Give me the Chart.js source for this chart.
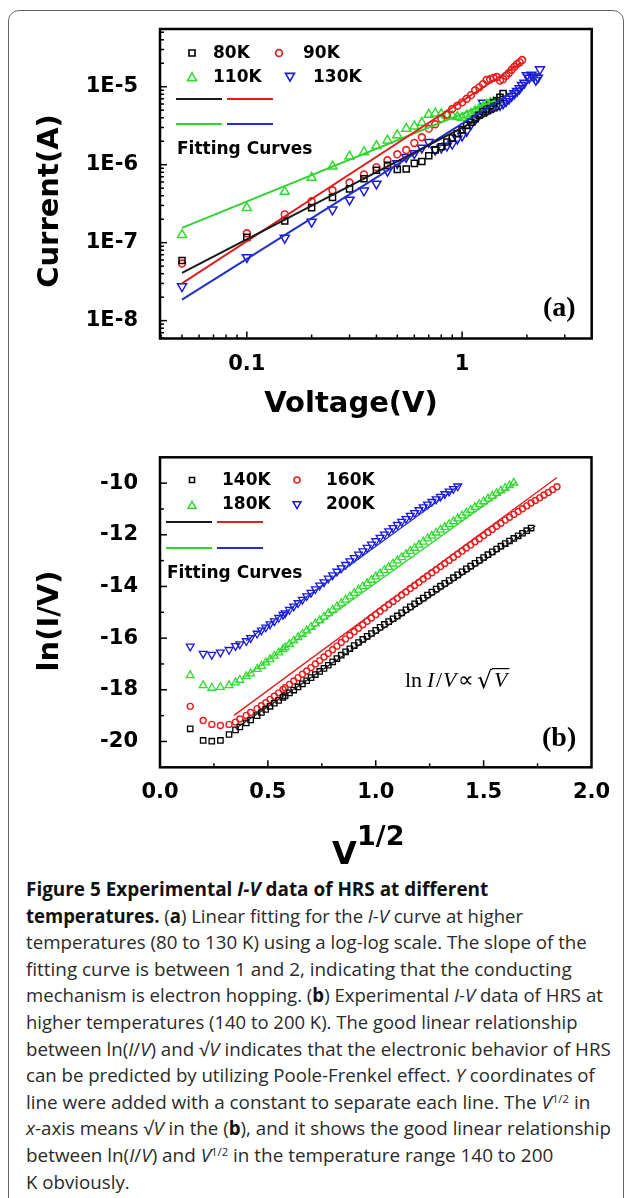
<!DOCTYPE html>
<html><head><meta charset="utf-8">
<script src="https://cdn.jsdelivr.net/npm/chart.js@4.4.1/dist/chart.umd.min.js"></script>
<style>
html,body{margin:0;padding:0;background:#fff;width:627px;height:1198px;overflow:hidden;position:relative;}
#frame{position:absolute;left:8px;top:10px;width:616px;height:1220px;border:1.5px solid #666;border-radius:11px;box-sizing:border-box;}
canvas{position:absolute;left:0;}
#ca{top:0;} #cb{top:420px;}
.cl{position:absolute;left:26px;white-space:nowrap;font-family:"Open Sans",sans-serif;font-size:19px;line-height:26px;color:#2a2a2a;transform-origin:0 50%;}
.cl b{font-weight:700;color:#111;}
.cl sup{font-size:0.6em;vertical-align:0.55em;line-height:0;}
</style></head>
<body>
<div id="frame"></div>
<canvas id="ca" width="627" height="420"></canvas>
<canvas id="cb" width="627" height="450"></canvas>
<div id="cap">
<div class="cl"><b>Figure 5 Experimental <i>I-V</i> data of HRS at different</b></div>
<div class="cl"><b>temperatures.</b> (<b>a</b>) Linear fitting for the <i>I-V</i> curve at higher</div>
<div class="cl">temperatures (80 to 130 K) using a log-log scale. The slope of the</div>
<div class="cl">fitting curve is between 1 and 2, indicating that the conducting</div>
<div class="cl">mechanism is electron hopping. (<b>b</b>) Experimental <i>I-V</i> data of HRS at</div>
<div class="cl">higher temperatures (140 to 200 K). The good linear relationship</div>
<div class="cl">between ln(<i>I</i>/<i>V</i>) and √<i>V</i> indicates that the electronic behavior of HRS</div>
<div class="cl">can be predicted by utilizing Poole-Frenkel effect. <i>Y</i> coordinates of</div>
<div class="cl">line were added with a constant to separate each line. The <i>V</i><sup>1/2</sup> in</div>
<div class="cl"><i>x</i>-axis means √<i>V</i> in the (<b>b</b>), and it shows the good linear relationship</div>
<div class="cl">between ln(<i>I</i>/<i>V</i>) and <i>V</i><sup>1/2</sup> in the temperature range 140 to 200</div>
<div class="cl">K obviously.</div>
</div>
<script>
// ---------------- DATA: panel (a) ----------------
const xA = [0.05,0.10,0.15,0.20,0.25,0.30,0.35,0.40,0.45,0.50,0.55,0.60,0.65,0.70,0.75,0.80,0.85,0.90,0.95,1.00,
            1.05,1.10,1.15,1.20,1.25,1.30,1.35,1.40,1.45,1.50,1.55,1.60,1.65,1.70,1.75,1.80,1.85,1.90,1.95,2.00,
            2.05,2.10,2.15,2.20,2.25,2.30];
const i80  = [5.9e-8,1.17e-7,1.9e-7,2.8e-7,3.8e-7,4.9e-7,6.6e-7,8.5e-7,9.8e-7,8.7e-7,8.8e-7,1.04e-6,1.1e-6,1.3e-6,1.55e-6,
              1.7e-6,1.95e-6,2.2e-6,2.5e-6,2.8e-6,3.2e-6,3.5e-6,3.9e-6,4.3e-6,4.8e-6,5.2e-6,5.7e-6,6.2e-6,6.6e-6,7.3e-6,8.2e-6];
const i90  = [5.4e-8,1.32e-7,2.3e-7,3.4e-7,4.7e-7,5.9e-7,7.5e-7,9.3e-7,1.14e-6,1.36e-6,1.54e-6,1.9e-6,2.25e-6,2.9e-6,3.3e-6,
              3.9e-6,4.4e-6,5.2e-6,5.7e-6,6.3e-6,7.0e-6,7.8e-6,9.0e-6,9.8e-6,1.08e-5,1.22e-5,1.25e-5,1.3e-5,1.33e-5,1.2e-5,
              1.25e-5,1.38e-5,1.5e-5,1.65e-5,1.8e-5,1.95e-5,2.05e-5,2.2e-5];
const i110 = [1.26e-7,2.8e-7,4.5e-7,6.8e-7,9.5e-7,1.28e-6,1.45e-6,1.74e-6,2.05e-6,2.4e-6,2.9e-6,3.1e-6,3.45e-6,4.4e-6,4.55e-6,
              4.45e-6,4.3e-6,4.2e-6,4.1e-6,4.0e-6,4.3e-6,4.5e-6,4.9e-6,5.2e-6,5.5e-6,5.9e-6,6.2e-6,6.4e-6,6.6e-6];
const i130 = [2.75e-8,6.5e-8,1.15e-7,1.85e-7,2.65e-7,3.55e-7,4.65e-7,5.7e-7,8.3e-7,1.04e-6,1.25e-6,1.4e-6,1.65e-6,1.95e-6,1.55e-6,
              1.65e-6,1.75e-6,1.85e-6,2.15e-6,2.35e-6,2.7e-6,3.3e-6,3.8e-6,4.4e-6,6.2e-6,4.9e-6,5.3e-6,5.5e-6,5.7e-6,5.8e-6,
              6.1e-6,6.5e-6,7.0e-6,7.6e-6,8.2e-6,8.8e-6,9.5e-6,1.05e-5,1.12e-5,1.4e-5,1.3e-5,1.42e-5,1.35e-5,1.22e-5,1.3e-5,1.67e-5];
const fitXA80 = [0.05,1.5],   fitYA80 = [4.1e-8,5.3e-6];
const fitXA90 = [0.05,1.86],  fitYA90 = [3.0e-8,2.0e-5];
const fitXA110 = [0.05,1.43], fitYA110 = [1.55e-7,6.7e-6];
const fitXA130 = [0.05,2.23], fitYA130 = [1.86e-8,1.35e-5];
const xTicksA = [0.1,1], xLabelsA = ['0.1','1'];
const yTicksA = [1e-8,1e-7,1e-6,1e-5], yLabelsA = ['1E-8','1E-7','1E-6','1E-5'];
const namesA = ['80K','90K','110K','130K'];

// ---------------- DATA: panel (b) ----------------
const xB = [0.14,0.20,0.24,0.28,0.32,0.35,0.37,0.40,0.42,0.45,0.47,0.49,0.51,0.53,0.55,0.57,0.58,0.60,
            0.62,0.64,0.66,0.68,0.70,0.72,0.74,0.76,0.78,0.80,
            0.82,0.84,0.86,0.88,0.90,0.92,0.94,0.96,0.98,1.00,
            1.02,1.04,1.06,1.08,1.10,1.12,1.14,1.16,1.18,1.20,
            1.22,1.24,1.26,1.28,1.30,1.32,1.34,1.36,1.38,1.40,
            1.42,1.44,1.46,1.48,1.50,1.52,1.54,1.56,1.58,1.60,
            1.62,1.64,1.66,1.68,1.70,1.72,1.74,1.76,1.78,1.80,
            1.82,1.84];
const r140 = [-19.51,-19.96,-19.99,-19.96,-19.73,-19.55,-19.44,-19.28,-19.17,-19.0,-18.88,-18.76,-18.64,-18.52,-18.41,-18.29,-18.23,-18.12,
              -18.01,-17.89,-17.77,-17.65,-17.53,-17.41,-17.29,-17.17,-17.05,-16.92,
              -16.79,-16.66,-16.53,-16.41,-16.29,-16.17,-16.05,-15.93,-15.82,-15.7,
              -15.58,-15.47,-15.36,-15.25,-15.14,-15.02,-14.9,-14.79,-14.67,-14.56,
              -14.45,-14.33,-14.22,-14.1,-13.99,-13.88,-13.77,-13.66,-13.55,-13.43,
              -13.32,-13.21,-13.1,-12.99,-12.88,-12.77,-12.66,-12.55,-12.44,-12.34,
              -12.24,-12.14,-12.04,-11.94,-11.84,-11.74];
const r160 = [-18.64,-19.19,-19.34,-19.38,-19.34,-19.25,-19.13,-18.99,-18.88,-18.73,-18.62,-18.5,-18.37,-18.25,-18.12,-17.99,-17.92,-17.79,
              -17.66,-17.53,-17.4,-17.27,-17.14,-17.0,-16.87,-16.73,-16.59,-16.45,
              -16.31,-16.17,-16.03,-15.89,-15.75,-15.62,-15.48,-15.35,-15.22,-15.09,
              -14.96,-14.83,-14.7,-14.58,-14.46,-14.33,-14.21,-14.08,-13.96,-13.84,
              -13.71,-13.59,-13.47,-13.35,-13.23,-13.11,-12.99,-12.87,-12.75,-12.63,
              -12.51,-12.39,-12.27,-12.15,-12.03,-11.91,-11.79,-11.67,-11.55,-11.43,
              -11.32,-11.21,-11.1,-10.99,-10.88,-10.77,-10.67,-10.57,-10.46,-10.36,
              -10.25,-10.14];
const r180 = [-17.44,-17.83,-17.93,-17.9,-17.83,-17.72,-17.62,-17.48,-17.37,-17.2,-17.08,-16.95,-16.82,-16.69,-16.56,-16.43,-16.36,-16.23,
              -16.1,-15.97,-15.84,-15.71,-15.57,-15.44,-15.31,-15.18,-15.04,-14.91,
              -14.78,-14.65,-14.52,-14.39,-14.26,-14.13,-14.0,-13.88,-13.75,-13.62,
              -13.5,-13.37,-13.25,-13.12,-13.0,-12.87,-12.75,-12.63,-12.51,-12.39,
              -12.27,-12.15,-12.04,-11.92,-11.81,-11.7,-11.59,-11.48,-11.37,-11.26,
              -11.15,-11.04,-10.93,-10.82,-10.71,-10.6,-10.5,-10.39,-10.29,-10.19,
              -10.09,-9.99];
const r200 = [-16.32,-16.6,-16.64,-16.55,-16.45,-16.3,-16.23,-16.11,-15.99,-15.82,-15.7,-15.58,-15.46,-15.34,-15.21,-15.09,-15.03,-14.9,
              -14.77,-14.64,-14.51,-14.37,-14.24,-14.1,-13.96,-13.83,-13.69,-13.56,
              -13.42,-13.29,-13.16,-13.02,-12.89,-12.76,-12.63,-12.5,-12.37,-12.24,
              -12.11,-11.98,-11.86,-11.73,-11.61,-11.49,-11.38,-11.26,-11.15,-11.04,
              -10.93,-10.82,-10.72,-10.62,-10.52,-10.42,-10.32,-10.22,-10.12];
const fitXB140 = [0.35,1.74],  fitYB140 = [-19.5,-11.65];
const fitXB160 = [0.343,1.84], fitYB160 = [-18.99,-9.78];
const fitXB180 = [0.38,1.65],  fitYB180 = [-17.58,-9.97];
const fitXB200 = [0.40,1.39],  fitYB200 = [-16.1,-10.07];
const xTicksB = [0,0.5,1,1.5,2], xLabelsB = ['0.0','0.5','1.0','1.5','2.0'];
const xMinorB = [0.25,0.75,1.25,1.75];
const yTicksB = [-20,-18,-16,-14,-12,-10], yLabelsB = ['-20','-18','-16','-14','-12','-10'];
const yMinorB = [-19,-17,-15,-13,-11];
const namesB = ['140K','160K','180K','200K'];

// ---------------- styles ----------------
const COL = {k:'#000000', r:'#ec1c1c', g:'#2fdc2f', b:'#1a1ad8'};
const FIT = {k:'#1a1a1a', r:'#dd2020', g:'#33d433', b:'#2030c8'};
const TICKFONT = 'bold 21px "DejaVu Sans"';
const TITLEFONT = 'bold 29px "DejaVu Sans"';
const LEGFONT = 'bold 17px "DejaVu Sans"';

const pts = (xs, ys) => ys.map((y, i) => ({x: xs[i], y: y}));

function seg(ctx, x1, y1, x2, y2){ ctx.beginPath(); ctx.moveTo(x1,y1); ctx.lineTo(x2,y2); ctx.stroke(); }
function drawMarker(ctx, style, x, y, r, color, lw, rot){
  ctx.save(); ctx.strokeStyle = color; ctx.lineWidth = lw; ctx.beginPath();
  if (style === 'rect'){ const s = r*Math.SQRT1_2; ctx.rect(x-s, y-s, 2*s, 2*s); }
  else if (style === 'circle'){ ctx.arc(x, y, r, 0, Math.PI*2); }
  else {
    let a = (rot||0)*Math.PI/180;
    ctx.moveTo(x+Math.sin(a)*r, y-Math.cos(a)*r);
    a += 2*Math.PI/3; ctx.lineTo(x+Math.sin(a)*r, y-Math.cos(a)*r);
    a += 2*Math.PI/3; ctx.lineTo(x+Math.sin(a)*r, y-Math.cos(a)*r);
    ctx.closePath();
  }
  ctx.stroke(); ctx.restore();
}
function markerSet(label, data, style, r, color, lw, rot){
  return {label, data, showLine:false, pointStyle:style, pointRadius:r, pointHoverRadius:r, pointBorderWidth:lw,
          pointRotation:rot||0, borderColor:color, pointBorderColor:color, backgroundColor:'rgba(0,0,0,0)',
          pointBackgroundColor:'rgba(0,0,0,0)', order:1};
}
function fitSet(data, color, w){
  return {data, showLine:true, borderColor:color, borderWidth:w, pointRadius:0, pointHoverRadius:0, fill:false, order:0};
}

// ---------------- panel (a) decoration ----------------
function drawA(chart){
  const ctx = chart.ctx, a = chart.chartArea, sx = chart.scales.x, sy = chart.scales.y;
  ctx.save();
  ctx.strokeStyle = '#000'; ctx.lineWidth = 1.5;
  for (let d = -9; d <= 1; d++) for (let m = 1; m <= 9; m++){
    const v = m*Math.pow(10, d);
    if (v > sx.min*1.001 && v < sx.max*0.999){ const p = sx.getPixelForValue(v); seg(ctx, p, a.bottom, p, a.bottom-(m===1?7:4)); }
    if (v > sy.min*1.001 && v < sy.max*0.999){ const p = sy.getPixelForValue(v); seg(ctx, a.left, p, a.left+(m===1?7:4), p); }
  }
  ctx.lineWidth = 2.5; ctx.strokeRect(a.left, a.top, a.right-a.left, a.bottom-a.top);
  ctx.fillStyle = '#000'; ctx.font = TICKFONT; ctx.textBaseline = 'middle';
  ctx.textAlign = 'right';
  yTicksA.forEach((v,i) => ctx.fillText(yLabelsA[i], 138, sy.getPixelForValue(v)));
  ctx.textAlign = 'center';
  xTicksA.forEach((v,i) => ctx.fillText(xLabelsA[i], sx.getPixelForValue(v), 365));
  ctx.font = TITLEFONT;
  ctx.fillText('Voltage(V)', 351, 404);
  ctx.save(); ctx.translate(50, 201); ctx.rotate(-Math.PI/2); ctx.fillText('Current(A)', 0, 0); ctx.restore();
  // legend
  ctx.font = LEGFONT; ctx.textAlign = 'left';
  drawMarker(ctx, 'rect', 192, 53, 4.3, COL.k, 1.6); ctx.fillText(namesA[0], 213, 54);
  drawMarker(ctx, 'circle', 279, 53, 3.4, COL.r, 1.7); ctx.fillText(namesA[1], 303, 54);
  drawMarker(ctx, 'triangle', 192, 78, 5.2, COL.g, 1.6, 0); ctx.fillText(namesA[2], 213, 78);
  drawMarker(ctx, 'triangle', 290, 76, 5.2, COL.b, 1.6, 180); ctx.fillText(namesA[3], 313, 78);
  ctx.lineWidth = 2;
  ctx.strokeStyle = FIT.k; seg(ctx, 176, 99, 222, 99);
  ctx.strokeStyle = FIT.r; seg(ctx, 227, 99, 273, 99);
  ctx.strokeStyle = FIT.g; seg(ctx, 176, 124, 222, 124);
  ctx.strokeStyle = FIT.b; seg(ctx, 227, 124, 273, 124);
  ctx.fillText('Fitting Curves', 177, 150);
  ctx.font = 'bold 28px "Liberation Serif"';
  ctx.fillText('(a)', 543, 309);
  ctx.restore();
}

// ---------------- panel (b) decoration ----------------
function drawB(chart){
  const ctx = chart.ctx, a = chart.chartArea, sx = chart.scales.x, sy = chart.scales.y;
  ctx.save();
  ctx.strokeStyle = '#000'; ctx.lineWidth = 1.5;
  xTicksB.forEach(v => { if (v > sx.min && v < sx.max){ const p = sx.getPixelForValue(v); seg(ctx, p, a.bottom, p, a.bottom-7); } });
  xMinorB.forEach(v => { const p = sx.getPixelForValue(v); seg(ctx, p, a.bottom, p, a.bottom-4); });
  yTicksB.forEach(v => { const p = sy.getPixelForValue(v); seg(ctx, a.left, p, a.left+7, p); });
  yMinorB.forEach(v => { const p = sy.getPixelForValue(v); seg(ctx, a.left, p, a.left+4, p); });
  ctx.lineWidth = 2.5; ctx.strokeRect(a.left, a.top, a.right-a.left, a.bottom-a.top);
  ctx.fillStyle = '#000'; ctx.font = TICKFONT; ctx.textBaseline = 'middle';
  ctx.textAlign = 'right';
  yTicksB.forEach((v,i) => ctx.fillText(yLabelsB[i], 138, sy.getPixelForValue(v)));
  ctx.textAlign = 'center';
  xTicksB.forEach((v,i) => ctx.fillText(xLabelsB[i], sx.getPixelForValue(v), 373));
  ctx.font = TITLEFONT;
  ctx.save(); ctx.translate(50, 201); ctx.rotate(-Math.PI/2); ctx.fillText('ln(I/V)', 0, 0); ctx.restore();
  ctx.textAlign = 'left'; ctx.textBaseline = 'alphabetic';
  ctx.font = 'bold 32px "DejaVu Sans"'; ctx.fillText('V', 332, 444);
  ctx.font = 'bold 27px "DejaVu Sans"'; ctx.fillText('1/2', 357, 425);
  // legend
  ctx.textBaseline = 'middle';
  ctx.font = LEGFONT;
  drawMarker(ctx, 'rect', 192, 60, 3.6, COL.k, 1.5); ctx.fillText(namesB[0], 222, 61);
  drawMarker(ctx, 'circle', 297, 60, 3.0, COL.r, 1.6); ctx.fillText(namesB[1], 326, 61);
  drawMarker(ctx, 'triangle', 192, 86, 4.6, COL.g, 1.5, 0); ctx.fillText(namesB[2], 222, 85);
  drawMarker(ctx, 'triangle', 297, 84, 4.6, COL.b, 1.5, 180); ctx.fillText(namesB[3], 326, 85);
  ctx.lineWidth = 2;
  ctx.strokeStyle = FIT.k; seg(ctx, 166, 102, 212, 102);
  ctx.strokeStyle = FIT.r; seg(ctx, 217, 102, 263, 102);
  ctx.strokeStyle = FIT.g; seg(ctx, 166, 128, 212, 128);
  ctx.strokeStyle = FIT.b; seg(ctx, 217, 128, 263, 128);
  ctx.fillText('Fitting Curves', 167, 154);
  ctx.font = 'bold 28px "Liberation Serif"';
  ctx.fillText('(b)', 542, 319);
  // ln I/V ∝ √V
  ctx.textBaseline = 'alphabetic';
  const yb = 267;
  ctx.font = '22px "Liberation Serif"'; ctx.fillText('ln', 405, yb);
  ctx.font = 'italic 22px "Liberation Serif"'; ctx.fillText('I', 427, yb);
  ctx.font = '22px "Liberation Serif"'; ctx.fillText('/', 436, yb);
  ctx.font = 'italic 22px "Liberation Serif"'; ctx.fillText('V', 443, yb);
  ctx.font = '22px "Liberation Serif"'; ctx.fillText('\u221D', 458, yb);
  ctx.font = '24px "DejaVu Serif"';
  const rm = ctx.measureText('\u221A');
  const rx = 477, rTop = yb + 1 - rm.actualBoundingBoxAscent;
  ctx.fillText('\u221A', rx, yb + 1);
  const vx = rx + rm.actualBoundingBoxRight + 1;
  ctx.font = 'italic 22px "Liberation Serif"'; ctx.fillText('V', vx, yb);
  const vw = ctx.measureText('V').width;
  ctx.strokeStyle = '#000'; ctx.lineWidth = 1.2;
  seg(ctx, rx + rm.actualBoundingBoxRight - 1, rTop + 0.6, vx + vw + 2, rTop + 0.6);
  ctx.restore();
}

const common = {
  responsive:false, animation:false, devicePixelRatio:1, events:[],
  plugins:{legend:{display:false}, tooltip:{enabled:false}}
};

new Chart(document.getElementById('ca'), {
  type:'scatter',
  data:{datasets:[
    fitSet(pts(fitXA80, fitYA80), FIT.k, 2),
    fitSet(pts(fitXA90, fitYA90), FIT.r, 2),
    fitSet(pts(fitXA110, fitYA110), FIT.g, 2),
    fitSet(pts(fitXA130, fitYA130), FIT.b, 2),
    markerSet(namesA[0], pts(xA, i80), 'rect', 4.3, COL.k, 1.5),
    markerSet(namesA[1], pts(xA, i90), 'circle', 3.4, COL.r, 1.6),
    markerSet(namesA[2], pts(xA, i110), 'triangle', 5.2, COL.g, 1.5, 0),
    markerSet(namesA[3], pts(xA, i130), 'triangle', 5.2, COL.b, 1.5, 180)
  ]},
  options:Object.assign({}, common, {
    layout:{padding:{left:0, top:29, right:35.3, bottom:0}},
    scales:{
      x:{type:'logarithmic', min:0.0395, max:4.0, ticks:{display:false}, grid:{display:false}, border:{display:false},
         afterFit:s => { s.height = 81.5; }},
      y:{type:'logarithmic', min:5.9e-9, max:5.5e-5, ticks:{display:false}, grid:{display:false}, border:{display:false},
         afterFit:s => { s.width = 160; }}
    }
  }),
  plugins:[{id:'decoA', afterDraw:drawA}]
});

new Chart(document.getElementById('cb'), {
  type:'scatter',
  data:{datasets:[
    fitSet(pts(fitXB140, fitYB140), FIT.k, 1.3),
    fitSet(pts(fitXB160, fitYB160), FIT.r, 1.4),
    fitSet(pts(fitXB180, fitYB180), FIT.g, 1.3),
    fitSet(pts(fitXB200, fitYB200), FIT.b, 1.3),
    markerSet(namesB[0], pts(xB, r140), 'rect', 3.8, COL.k, 1.3),
    markerSet(namesB[1], pts(xB, r160), 'circle', 3.0, COL.r, 1.4),
    markerSet(namesB[2], pts(xB, r180), 'triangle', 4.5, COL.g, 1.3, 0),
    markerSet(namesB[3], pts(xB, r200), 'triangle', 4.5, COL.b, 1.3, 180)
  ]},
  options:Object.assign({}, common, {
    layout:{padding:{left:0, top:37.3, right:35.5, bottom:0}},
    scales:{
      x:{type:'linear', min:0, max:2, ticks:{display:false}, grid:{display:false}, border:{display:false},
         afterFit:s => { s.height = 102.7; }},
      y:{type:'linear', min:-21, max:-9, ticks:{display:false}, grid:{display:false}, border:{display:false},
         afterFit:s => { s.width = 160; }}
    }
  }),
  plugins:[{id:'decoB', afterDraw:drawB}]
});

// ---------------- caption layout ----------------
const capWidths = [462,497,561,546,577,551,585,569,564,585,527];
function layoutCaption(){
  const lines = document.querySelectorAll('.cl');
  let sum = 0, n = 0;
  lines.forEach((el, i) => {
    el.style.top = (876 + i*26.6) + 'px';
    el.style.transform = 'none';
    if (i < capWidths.length){
      const s = capWidths[i] / el.offsetWidth;
      el.style.transform = 'scaleX(' + s + ')';
      if (i >= 2){ sum += s; n++; }
    }
  });
  lines[lines.length-1].style.transform = 'scaleX(' + (sum/n) + ')';
}
layoutCaption();
if (document.fonts && document.fonts.ready) document.fonts.ready.then(layoutCaption);
</script>
</body></html>
